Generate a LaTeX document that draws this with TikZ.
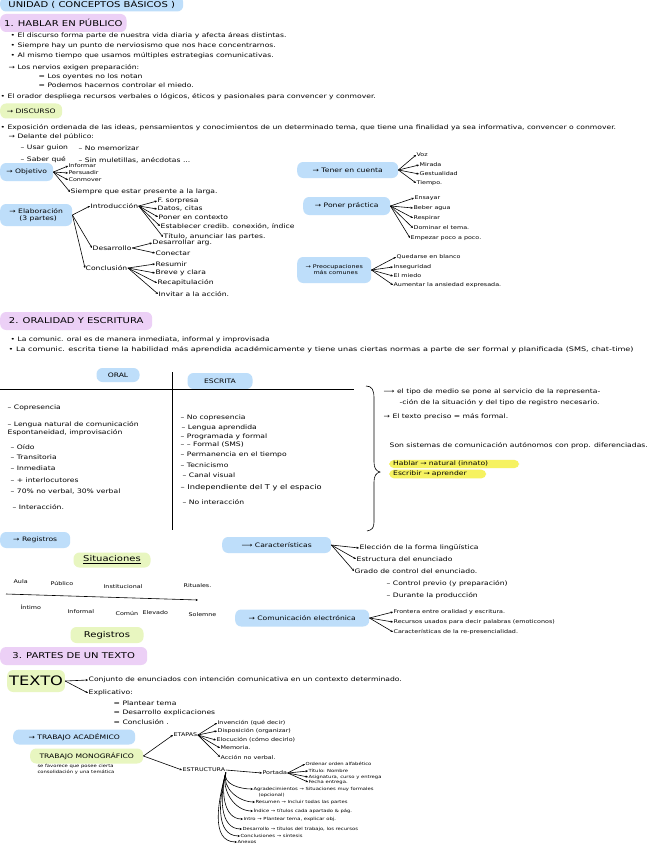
\documentclass[tikz,border=0pt]{standalone}
\usepackage{fontspec}
\setmainfont{DejaVu Sans}[FakeStretch=1.25]
\usetikzlibrary{arrows.meta}
\definecolor{hlB}{RGB}{190,222,250}
\definecolor{hlP}{RGB}{236,208,246}
\definecolor{hlG}{RGB}{232,246,192}
\definecolor{hlY}{RGB}{246,242,96}
\newcommand{\fsA}{\fontsize{6.1}{7}\selectfont}
\newcommand{\fsB}{\fontsize{5.1}{6}\selectfont}
\newcommand{\fsC}{\fontsize{4.2}{5}\selectfont}
\newcommand{\fsH}{\fontsize{8}{9.5}\selectfont}
\begin{document}
\begin{tikzpicture}[x=1pt,y=-1pt,
  t/.style={anchor=west,inner sep=0.5pt,font=\fsA},
  ts/.style={anchor=west,inner sep=0.4pt,font=\fsB},
  tc/.style={anchor=west,inner sep=0.3pt,font=\fsC},
  hlbox/.style={anchor=west,rounded corners=6pt,inner xsep=4pt,inner ysep=3pt,font=\fsA},
  hB/.style={hlbox,fill=hlB},
  hP/.style={hlbox,fill=hlP},
  hG/.style={hlbox,fill=hlG},
  hY/.style={hlbox,fill=hlY,rounded corners=5pt,inner ysep=1.5pt,align=left},
  arr/.style={-{Stealth[length=2.4pt,width=2.2pt]},line width=0.6pt},
  ln/.style={line width=0.6pt}]
\useasboundingbox[fill=white] (0,0) rectangle (656,848);

% ---------- header ----------
\node[hB,font=\fsH,minimum width=183pt,minimum height=15pt] (title) at (0,4) {UNIDAD ( CONCEPTOS BÁSICOS )};
\node[hP,font=\fsH,minimum width=108pt,minimum height=18pt] (s1) at (0,23) {1. HABLAR EN PÚBLICO};

\node[t] (l1) at (10,36) {• El discurso forma parte de nuestra vida diaria y afecta áreas distintas.};
\node[t] (l2) at (10,46) {• Siempre hay un punto de nerviosismo que nos hace concentrarnos.};
\node[t] (l3) at (10,56) {• Al mismo tiempo que usamos múltiples estrategias comunicativas.};
\node[t] (l4) at (8,68) {→ Los nervios exigen preparación:};
\node[t] (l5) at (38,77) {= Los oyentes no los notan};
\node[t] (l6) at (38,85) {= Podemos hacernos controlar el miedo.};
\node[t] (l7) at (0,97) {• El orador despliega recursos verbales o lógicos, éticos y pasionales para convencer y conmover.};

\node[hG,minimum width=62pt,minimum height=15pt] (disc) at (0,111) {→ DISCURSO};
\node[t] (l8) at (0,128) {• Exposición ordenada de las ideas, pensamientos y conocimientos de un determinado tema, que tiene una finalidad ya sea informativa, convencer o conmover.};
\node[t] (l9) at (8,137) {→ Delante del público:};
\node[t] (l10) at (20,148) {– Usar guion};
\node[t] (l11) at (78,148) {– No memorizar};
\node[t] (l12) at (20,160) {– Saber qué};
\node[t] (l13) at (78,160) {– Sin muletillas, anécdotas ...};

% ---------- objetivo ----------
\node[hB,minimum width=53pt,minimum height=18pt] (obj) at (0,172) {→ Objetivo};
\node[ts] (o1) at (68,166) {Informar};
\node[ts] (o2) at (68,173) {Persuadir};
\node[ts] (o3) at (68,180) {Conmover};
\node[t] (o4) at (70,192) {Siempre que estar presente a la larga.};
\foreach \n in {o1,o2,o3,o4} \draw[arr] (obj.east) -- (\n.west);

% ---------- elaboracion ----------
\node[hB,minimum width=72pt,minimum height=22pt,align=left] (elab) at (0,215) {→ Elaboración\\\hspace*{10pt}(3 partes)};
\node[t] (intro) at (90,206) {Introducción};
\node[t] (desa) at (92,248) {Desarrollo};
\node[t] (concl) at (85,268) {Conclusión};
\foreach \n in {intro,desa,concl} \draw[arr] (elab.east) -- (\n.west);
\node[t] (i1) at (157,201) {F. sorpresa};
\node[t] (i2) at (157,209) {Datos, citas};
\node[t] (i3) at (158,217) {Poner en contexto};
\node[t] (i4) at (160,226) {Establecer credib. conexión, índice};
\node[t] (i5) at (163,237) {Título, anunciar las partes.};
\foreach \n in {i1,i2,i3,i4,i5} \draw[arr] (intro.east) -- (\n.west);
\node[t] (d1) at (152,243) {Desarrollar arg.};
\node[t] (d2) at (155,253) {Conectar};
\foreach \n in {d1,d2} \draw[arr] (desa.east) -- (\n.west);
\node[t] (c1) at (155,264) {Resumir};
\node[t] (c2) at (155,273) {Breve y clara};
\node[t] (c3) at (157,283) {Recapitulación};
\node[t] (c4) at (158,294) {Invitar a la acción.};
\foreach \n in {c1,c2,c3,c4} \draw[arr] (concl.east) -- (\n.west);

% ---------- right column ----------
\node[hB,minimum width=101pt,minimum height=16pt] (tener) at (297,170) {→ Tener en cuenta};
\node[ts] (te1) at (416,155) {Voz};
\node[ts] (te2) at (419,165) {Mirada};
\node[ts] (te3) at (419,174) {Gestualidad};
\node[ts] (te4) at (416,183) {Tiempo.};
\foreach \n in {te1,te2,te3,te4} \draw[arr] (tener.east) -- (\n.west);

\node[hB,minimum width=87pt,minimum height=18pt] (poner) at (303,206) {→ Poner práctica};
\node[ts] (p1) at (414,198) {Ensayar};
\node[ts] (p2) at (413,208) {Beber agua};
\node[ts] (p3) at (413,218) {Respirar};
\node[ts] (p4) at (413,228) {Dominar el tema.};
\node[ts] (p5) at (410,238) {Empezar poco a poco.};
\foreach \n in {p1,p2,p3,p4,p5} \draw[arr] (poner.east) -- (\n.west);

\node[hB,minimum width=74pt,minimum height=26pt,align=left,font=\fsB] (preo) at (297,270) {→ Preocupaciones\\\hspace*{8pt}más comunes};
\node[ts] (q1) at (396,257) {Quedarse en blanco};
\node[ts] (q2) at (393,267) {Inseguridad};
\node[ts] (q3) at (393,276) {El miedo};
\node[ts] (q4) at (393,285) {Aumentar la ansiedad expresada.};
\foreach \n in {q1,q2,q3,q4} \draw[arr] (preo.east) -- (\n.west);

% ---------- section 2 ----------
\node[hP,font=\fsH,minimum width=152pt,minimum height=18pt] (s2) at (0,321) {2. ORALIDAD Y ESCRITURA};
\node[t] (m1) at (10,340) {• La comunic. oral es de manera inmediata, informal y improvisada};
\node[t,font=\fontsize{6.1}{7}\selectfont\addfontfeature{FakeStretch=1.33}] (m2) at (8,350) {• La comunic. escrita tiene la habilidad más aprendida académicamente y tiene unas ciertas normas a parte de ser formal y planificada (SMS, chat-time)};

\node[hB,anchor=center,minimum width=43pt,minimum height=14pt] (oral) at (118,375) {ORAL};
\node[hB,anchor=center,minimum width=65pt,minimum height=16pt] (escr) at (220,381) {ESCRITA};
\draw[ln] (0,389) -- (354,389);
\draw[ln] (172,372) -- (172,530);

\node[t] (a1) at (7,408) {– Copresencia};
\node[t] (a2) at (7,425) {– Lengua natural de comunicación};
\node[t] (a3) at (7,433) {Espontaneidad, improvisación};
\node[t] (a4) at (10,447) {– Oído};
\node[t] (a5) at (10,457) {– Transitoria};
\node[t] (a6) at (10,468) {– Inmediata};
\node[t] (a7) at (10,480) {– + interlocutores};
\node[t] (a8) at (10,492) {– 70\% no verbal, 30\% verbal};
\node[t] (a9) at (12,507) {– Interacción.};

\node[t] (b1) at (180,418) {– No copresencia};
\node[t] (b2) at (181,428) {– Lengua aprendida};
\node[t] (b3) at (180,437) {– Programada y formal};
\node[t] (b4) at (180,445) {– – Formal (SMS)};
\node[t] (b5) at (180,455) {– Permanencia en el tiempo};
\node[t] (b6) at (180,465) {– Tecnicismo};
\node[t] (b7) at (182,475) {– Canal visual};
\node[t,font=\fontsize{6.6}{7.6}\selectfont] (b8) at (180,488) {– Independiente del T y el espacio};
\node[t] (b9) at (182,502) {– No interacción};

\draw[ln] (366,386) .. controls (372,386) and (374,390) .. (374,398) -- (374,462)
  .. controls (374,468) and (376,471) .. (380,472)
  .. controls (376,473) and (374,476) .. (374,482) -- (374,522)
  .. controls (374,528) and (372,530) .. (367,531);

\node[t] (r1) at (383,392) {⟶ el tipo de medio se pone al servicio de la representa-};
\node[t] (r2) at (399,403) {-ción de la situación y del tipo de registro necesario.};
\node[t] (r3) at (383,417) {→ El texto preciso = más formal.};
\node[t] (r4) at (389,446) {Son sistemas de comunicación autónomos con prop. diferenciadas.};
\node[hY,text width=122pt] (y1) at (389,464) {Hablar → natural (innato)};
\node[hY,text width=89pt] (y2) at (389,474) {Escribir → aprender};

% ---------- registros ----------
\node[hB,minimum width=70pt,minimum height=16pt] (reg) at (0,540) {→ Registros};
\node[hG,anchor=center,font=\fsH,minimum width=77pt,minimum height=15pt] (sit) at (112,560) {\underline{Situaciones}};
\node[ts] (u1) at (13,582) {Aula};
\node[ts] (u2) at (50,583) {Público};
\node[ts] (u3) at (103,587) {Institucional};
\node[ts] (u4) at (183,586) {Rituales.};
\coordinate (sa) at (6,594);
\coordinate (sb) at (198,600);
\draw[arr] (sa) -- (sb);
\node[ts] (v1) at (20,607) {Íntimo};
\node[ts] (v2) at (67,612) {Informal};
\node[ts] (v3) at (115,613) {Común};
\node[ts] (v4) at (142,613) {Elevado};
\node[ts] (v5) at (188,615) {Solemne};
\node[hG,anchor=center,font=\fsH,minimum width=73pt,minimum height=16pt] (reg2) at (107,635) {Registros};
\node[hP,font=\fsH,minimum width=147pt,minimum height=18pt] (s3) at (0,656) {3. PARTES DE UN TEXTO};

\node[hB,minimum width=109pt,minimum height=16pt] (car) at (222,545) {⟶ Características};
\node[t] (k1) at (359,548) {Elección de la forma lingüística};
\node[t] (k2) at (356,559) {Estructura del enunciado};
\node[t] (k3) at (354,571) {Grado de control del enunciado.};
\foreach \n in {k1,k2,k3} \draw[arr] (car.east) -- (\n.west);
\node[t] (k4) at (386,584) {– Control previo (y preparación)};
\node[t] (k5) at (386,596) {– Durante la producción};

\node[hB,minimum width=134pt,minimum height=17pt] (elec) at (235,618) {→ Comunicación electrónica};
\node[ts] (e1) at (393,612) {Frontera entre oralidad y escritura.};
\node[ts] (e2) at (393,622) {Recursos usados para decir palabras (emoticonos)};
\node[ts] (e3) at (393,632) {Características de la re-presencialidad.};
\foreach \n in {e1,e2,e3} \draw[arr] (elec.east) -- (\n.west);

% ---------- section 3 ----------
\node[hG,font=\fontsize{13}{14}\selectfont,minimum width=51pt,minimum height=22pt,inner xsep=2pt] (texto) at (7,681) {TEXTO};
\node[t] (x1) at (88,680) {Conjunto de enunciados con intención comunicativa en un contexto determinado.};
\node[t] (x2) at (88,693) {Explicativo:};
\draw[arr] (texto.east) -- (x1.west);
\draw[arr] (texto.east) -- (x2.west);
\node[t] (x3) at (113,703) {= Plantear tema};
\node[t] (x4) at (113,713) {= Desarrollo explicaciones};
\node[t] (x5) at (113,722) {= Conclusión .};

\node[hB,minimum width=122pt,minimum height=15pt] (acad) at (13,737) {→ TRABAJO ACADÉMICO};
\node[hG,minimum width=113pt,minimum height=15pt] (mono) at (30,756) {TRABAJO MONOGRÁFICO};
\node[tc] (mo1) at (37,766) {se favorece que posee cierta};
\node[tc] (mo2) at (37,772) {consolidación y una temática};

\node[ts] (etap) at (173,735) {ETAPAS};
\node[ts] (estr) at (182,770) {ESTRUCTURA};
\draw[arr] (mono.east) -- (etap.west);
\draw[arr] (mono.east) -- (estr.west);

\node[ts] (et1) at (217,723) {Invención (qué decir)};
\node[ts] (et2) at (217,731) {Disposición (organizar)};
\node[ts] (et3) at (216,740) {Elocución (cómo decirlo)};
\node[ts] (et4) at (220,748) {Memoria.};
\node[ts] (et5) at (220,757) {Acción no verbal.};
\foreach \n in {et1,et2,et3,et4,et5} \draw[arr] (etap.east) -- (\n.west);

\node[ts] (port) at (262,773) {Portada};
\draw[arr] (estr.east) -- (port.west);
\node[tc] (po1) at (305,764) {Ordenar orden alfabético};
\node[tc] (po2) at (308,771) {Título: Nombre};
\node[tc] (po3) at (308,777) {Asignatura, curso y entrega};
\node[tc] (po4) at (308,782) {Fecha entrega.};
\foreach \n in {po1,po2,po3,po4} \draw[arr] (port.east) -- (\n.west);

\node[tc] (f1) at (253,789) {Agradecimientos → Situaciones muy formales};
\node[tc] (f1b) at (258,795) {(opcional)};
\node[tc] (f2) at (255,802) {Resumen → Incluir todas las partes};
\node[tc] (f3) at (253,811) {Índice → títulos cada apartado \& pág.};
\node[tc] (f4) at (243,819) {Intro → Plantear tema, explicar obj.};
\node[tc] (f5) at (242,829) {Desarrollo → títulos del trabajo, los recursos};
\node[tc] (f6) at (240,836) {Conclusiones → síntesis};
\node[tc] (f7) at (237,842) {Anexos};
\foreach \n in {f1,f2,f3,f4,f5,f6,f7} \draw[arr] (estr.south east) to[out=-105,in=180] (\n.west);

\end{tikzpicture}
\end{document}
